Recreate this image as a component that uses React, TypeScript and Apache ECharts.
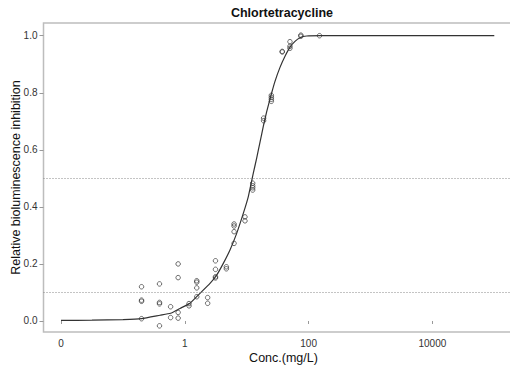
import React, { useEffect, useRef } from "react";
import * as echarts from "echarts";

const TITLE = "Chlortetracycline";
const X_NAME = "Conc.(mg/L)";
const Y_NAME = "Relative bioluminescence inhibition";

// observed points: concentration (mg/L) and inhibition
const obsConc = [
  0.2, 0.2, 0.2, 0.2,
  0.39, 0.39, 0.39, 0.39,
  0.59, 0.59,
  0.78, 0.78, 0.78, 0.78,
  1.17, 1.17,
  1.56, 1.56, 1.56, 1.56,
  2.34, 2.34,
  3.13, 3.13, 3.13, 3.13,
  4.69, 4.69,
  6.25, 6.25, 6.25, 6.25,
  9.38, 9.38,
  12.5, 12.5, 12.5, 12.5,
  18.75, 18.75,
  25, 25, 25, 25,
  37.5, 37.5,
  50, 50, 50,
  75, 75,
  150,
];
const obsInhib = [
  0.12, 0.073, 0.069, 0.008,
  0.13, 0.065, 0.06, -0.017,
  0.05, 0.012,
  0.2, 0.152, 0.03, 0.01,
  0.061, 0.053,
  0.141, 0.136, 0.116, 0.085,
  0.082, 0.062,
  0.211, 0.181, 0.155, 0.151,
  0.19, 0.183,
  0.34, 0.333, 0.313, 0.272,
  0.365, 0.351,
  0.483, 0.474, 0.467, 0.459,
  0.711, 0.702,
  0.791, 0.784, 0.777, 0.77,
  0.945, 0.943,
  0.979, 0.963, 0.956,
  1.002, 0.998,
  1.0,
];

// fitted curve
const fitConc = [
  0.01, 0.0316, 0.1, 0.2, 0.398, 0.589, 0.836, 1.213, 1.758, 2.553, 3.273,
  4.188, 5.37, 6.887, 8.81, 10.62, 12.79, 14.52, 16.41, 18.54, 21.04, 25.35,
  28.64, 34.51, 41.59, 50.12, 60.26, 72.61, 93.11, 158.5, 1000, 100000,
];
const fitInhib = [
  0.002, 0.003, 0.005, 0.008, 0.02, 0.027, 0.044, 0.062, 0.097, 0.132, 0.161,
  0.202, 0.249, 0.307, 0.377, 0.436, 0.518, 0.572, 0.627, 0.682, 0.734, 0.8,
  0.84, 0.889, 0.928, 0.96, 0.98, 0.993, 0.999, 1.0, 1.0, 1.0,
];

const xTickValues = [0.01, 1, 100, 10000];
const yTickValues = [0, 0.2, 0.4, 0.6, 0.8, 1.0];
const refLines = [0.5, 0.1];

const FONT = "'Liberation Sans', Arial, sans-serif";

export default function App() {
  const ref = useRef<HTMLDivElement>(null);
  useEffect(() => {
    if (!ref.current) return;
    const chart = echarts.init(ref.current, undefined, { renderer: "svg" });
    const xLabel = (v: number) => {
      const e = Math.round(Math.log10(v));
      if (e === -2) return "0";
      return String(Math.round(Math.pow(10, e)));
    };
    chart.setOption({
      animation: false,
      backgroundColor: "#ffffff",
      textStyle: { fontFamily: FONT },
      title: {
        text: TITLE,
        left: 277,
        top: 1,
        textAlign: "center",
        textStyle: { fontSize: 12.5, fontWeight: "bold", color: "#111", fontFamily: FONT },
      },
      grid: {
        left: 43.5,
        top: 23,
        width: 480,
        height: 309,
        show: true,
        borderColor: "#bdbdbd",
        borderWidth: 1.5,
        backgroundColor: "transparent",
        containLabel: false,
        outerBoundsMode: "none",
      },
      xAxis: {
        type: "log",
        logBase: 10,
        min: Math.pow(10, -2.283),
        max: Math.pow(10, 5.472),
        name: X_NAME,
        nameLocation: "middle",
        nameGap: 19,
        nameMoveOverlap: false,
        nameTextStyle: { fontSize: 12.5, color: "#111", fontFamily: FONT },
        axisLine: { show: false },
        axisTick: {
          show: true,
          length: 3,
          customValues: xTickValues,
          lineStyle: { color: "#999" },
        },
        axisLabel: {
          customValues: xTickValues,
          formatter: xLabel,
          fontSize: 10,
          color: "#333",
          margin: 6,
          fontFamily: FONT,
        },
        splitLine: { show: false },
      },
      yAxis: {
        type: "value",
        min: -0.0386,
        max: 1.0445,
        name: Y_NAME,
        nameLocation: "middle",
        nameGap: 21,
        nameMoveOverlap: false,
        nameTextStyle: { fontSize: 12.5, color: "#111", fontFamily: FONT },
        axisLine: { show: false },
        axisTick: {
          show: true,
          length: 4,
          customValues: yTickValues,
          lineStyle: { color: "#999" },
        },
        axisLabel: {
          customValues: yTickValues,
          formatter: (v: number) => v.toFixed(1),
          fontSize: 10,
          color: "#333",
          margin: 6,
          fontFamily: FONT,
        },
        splitLine: { show: false },
      },
      series: [
        {
          type: "line",
          data: fitConc.map((c, i) => [c, fitInhib[i]]),
          showSymbol: false,
          symbol: "none",
          smooth: 0.15,
          lineStyle: { color: "#333", width: 1.2 },
          markLine: {
            silent: true,
            symbol: "none",
            label: { show: false },
            lineStyle: { color: "#888", type: [1, 2], width: 1 },
            data: refLines.map((y) => ({ yAxis: y })),
          },
          z: 3,
        },
        {
          type: "scatter",
          data: obsConc.map((c, i) => [c, obsInhib[i]]),
          symbol: "circle",
          symbolSize: 4.5,
          itemStyle: { color: "transparent", borderColor: "#333", borderWidth: 0.9 },
          z: 4,
        },
      ],
    });
    return () => chart.dispose();
  }, []);
  return (
    <div
      ref={ref}
      style={{ position: "absolute", left: 0, top: 0, width: 510, height: 374, background: "#fff" }}
    />
  );
}
